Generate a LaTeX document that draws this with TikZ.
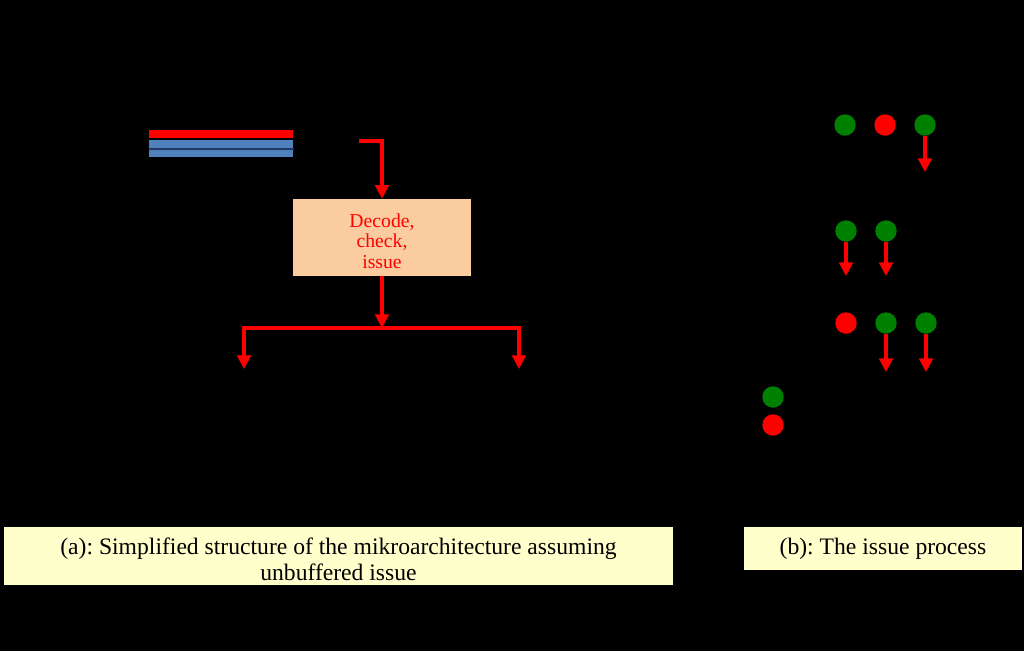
\documentclass[tikz,border=0pt]{standalone}
\usepackage{fontspec}
\setmainfont{Liberation Serif}
\usepackage{xcolor}
\usepackage{tikz}
\usetikzlibrary{arrows.meta,positioning,calc}
\definecolor{isorange}{RGB}{251,204,159}
\definecolor{isyellow}{RGB}{255,255,204}
\definecolor{isgreen}{RGB}{0,128,0}
\definecolor{isblue}{RGB}{79,129,189}
\definecolor{isnavy}{RGB}{31,56,100}
\frenchspacing
\tikzset{
isbox/.style={rectangle,draw=none,fill=isorange,align=center,inner sep=2pt,minimum width=4.45cm,minimum height=1.925cm,text=red,font=\fontsize{14}{14.4}\selectfont},
iscaption/.style={rectangle,draw=none,fill=isyellow,align=center,inner sep=2pt,font=\fontsize{16.8}{18.5}\selectfont},
isbar/.style={rectangle,draw=none,inner sep=0pt,minimum width=3.6cm,anchor=north west},
isdot/.style={circle,draw=none,inner sep=0pt,minimum size=0.535cm},
isgo/.style={isdot,fill=isgreen},
isstop/.style={isdot,fill=red},
isarr/.style={-{Triangle[width=0.34cm,length=0.34cm]},line width=2.2pt,red}
}

\begin{document}
\begin{tikzpicture}[
x=0.025cm,
y=-0.025cm
]
\fill[black] (0,0) rectangle (1024,651);
\useasboundingbox (0,0) rectangle (1024,651);
\node[isbar,fill=red,minimum height=0.2cm] (slotred) at (149,130) {};
\node[isbar,fill=isblue,minimum height=0.425cm] (slotblue) at (149,140) {};
\draw[isnavy,line width=1.2pt] (slotblue.west) -- (slotblue.east);
\node[isbox] (decode) at (382,237.5) {\rule{0pt}{15pt}Decode,\\check,\\issue};
\coordinate (fetchout) at (359,141);
\coordinate (split) at (382,328);
\coordinate (lefteu) at (244,369);
\coordinate (righteu) at (519,369);
\draw[isarr] (fetchout) -| (decode.north);
\draw[isarr] (decode.south) -- (split);
\draw[isarr] (split) -| (lefteu);
\draw[isarr] (split) -| (righteu);
\node[isgo] (a1) at (845,125) {};
\node[isstop] (a2) at (885,125) {};
\node[isgo] (a3) at (925,125) {};
\node[isgo] (b1) at (846,231) {};
\node[isgo] (b2) at (886,231) {};
\node[isstop] (c1) at (846,323) {};
\node[isgo] (c2) at (886,323) {};
\node[isgo] (c3) at (926,323) {};
\node[isgo] (keygo) at (773,397) {};
\node[isstop] (keystop) at (773,425) {};
\coordinate (a3out) at (925,172);
\coordinate (b1out) at (846,276);
\coordinate (b2out) at (886,276);
\coordinate (c2out) at (886,372);
\coordinate (c3out) at (926,372);
\draw[isarr] (a3.south) -- (a3out);
\draw[isarr] (b1.south) -- (b1out);
\draw[isarr] (b2.south) -- (b2out);
\draw[isarr] (c2.south) -- (c2out);
\draw[isarr] (c3.south) -- (c3out);
\node[iscaption,minimum width=16.725cm,minimum height=1.45cm]
  (capa) at (338.5,556) {\rule{0pt}{16pt}(a): Simplified structure of the mikroarchitecture assuming\\unbuffered issue};
\node[iscaption,minimum width=6.95cm,minimum height=1.075cm]
  (capb) at (883,548.5) {(b): The issue process};
\end{tikzpicture}
\end{document}
